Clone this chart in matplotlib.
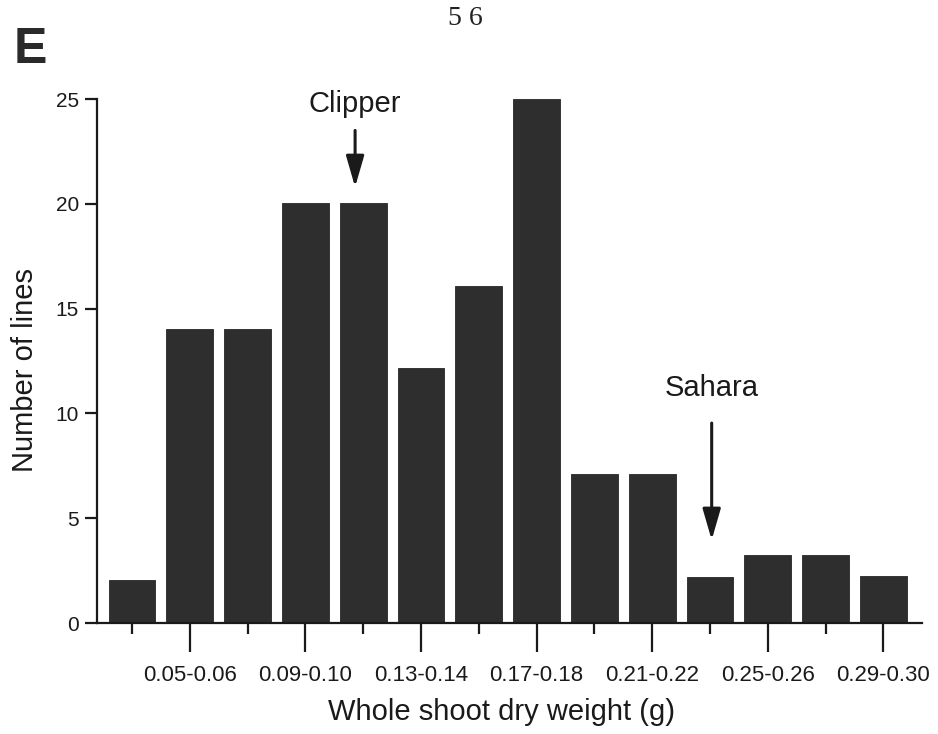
import matplotlib
matplotlib.use("Agg")
import matplotlib.pyplot as plt
import numpy as np

# ---- data ----
bin_labels = ["0.03-0.04", "0.05-0.06", "0.07-0.08", "0.09-0.10", "0.11-0.12",
              "0.13-0.14", "0.15-0.16", "0.17-0.18", "0.19-0.20", "0.21-0.22",
              "0.23-0.24", "0.25-0.26", "0.27-0.28", "0.29-0.30"]
counts = [2.05, 14.05, 14.05, 20.05, 20.05, 12.15, 16.1, 25.0, 7.1, 7.1, 2.2, 3.25, 3.25, 2.25]
y_ticks = [0, 5, 10, 15, 20, 25]
clipper_bin = 3.86
sahara_bin = 10.03

plt.rcParams['font.family'] = ['Liberation Sans', 'DejaVu Sans']

fig = plt.figure(figsize=(9.38, 7.34), dpi=100)
ax = fig.add_axes([0.1034, 0.1512, 0.983 - 0.1034, 0.8651 - 0.1512])

x = np.arange(len(counts))
ax.bar(x, counts, width=0.81, color="#2e2e2e", edgecolor="#262626", linewidth=0.6, zorder=2, clip_on=False)

ax.set_xlim(-0.606, 13.67)
ax.set_ylim(0, 25)

for s in ["top", "right"]:
    ax.spines[s].set_visible(False)
for s in ["left", "bottom"]:
    ax.spines[s].set_linewidth(1.6)
    ax.spines[s].set_color("#1a1a1a")

# x ticks: major (labelled) at odd bins, minor (short) at even bins
major_idx = [i for i in x if i % 2 == 1]
minor_idx = [i for i in x if i % 2 == 0]
ax.set_xticks(major_idx)
ax.set_xticklabels([bin_labels[i] for i in major_idx], fontsize=16)
ax.set_xticks(minor_idx, minor=True)
ax.tick_params(axis="x", which="major", length=21, width=1.6, direction="out", pad=9, colors="#1a1a1a")
ax.tick_params(axis="x", which="minor", length=8, width=1.6, direction="out", colors="#1a1a1a")

ax.set_yticks(y_ticks)
ax.set_yticklabels([str(v) for v in y_ticks], fontsize=15)
ax.tick_params(axis="y", length=9, width=1.6, direction="out", pad=4, colors="#1a1a1a")

fig.text(0.535, 0.030, "Whole shoot dry weight (g)", ha="center", va="center", fontsize=21, color="#1a1a1a")
fig.text(0.027, 0.496, "Number of lines", ha="center", va="center", rotation=90, fontsize=21, color="#1a1a1a")

# annotations
arrow_style = "-|>,head_length=1.9,head_width=0.55"
ax.text(clipper_bin, 24.76, "Clipper", ha="center", va="center", fontsize=21, color="#1a1a1a")
ax.annotate("", xy=(clipper_bin, 20.8), xytext=(clipper_bin, 23.5),
            arrowprops=dict(arrowstyle=arrow_style, lw=2.2, color="#1a1a1a",
                            shrinkA=0, shrinkB=0), annotation_clip=False)
ax.text(sahara_bin, 11.2, "Sahara", ha="center", va="center", fontsize=21, color="#1a1a1a")
ax.annotate("", xy=(sahara_bin, 3.96), xytext=(sahara_bin, 9.54),
            arrowprops=dict(arrowstyle=arrow_style, lw=2.2, color="#1a1a1a",
                            shrinkA=0, shrinkB=0), annotation_clip=False)

# panel letter and page number
fig.text(0.015, 0.932, "E", ha="left", va="center", fontsize=36, fontweight="bold", color="#2a2a2a")
fig.text(0.496, 0.975, "5 6", ha="center", va="center", fontsize=20,
         family=["Liberation Serif", "DejaVu Serif"], color="#222222")

fig.savefig("out.png", dpi=100)
